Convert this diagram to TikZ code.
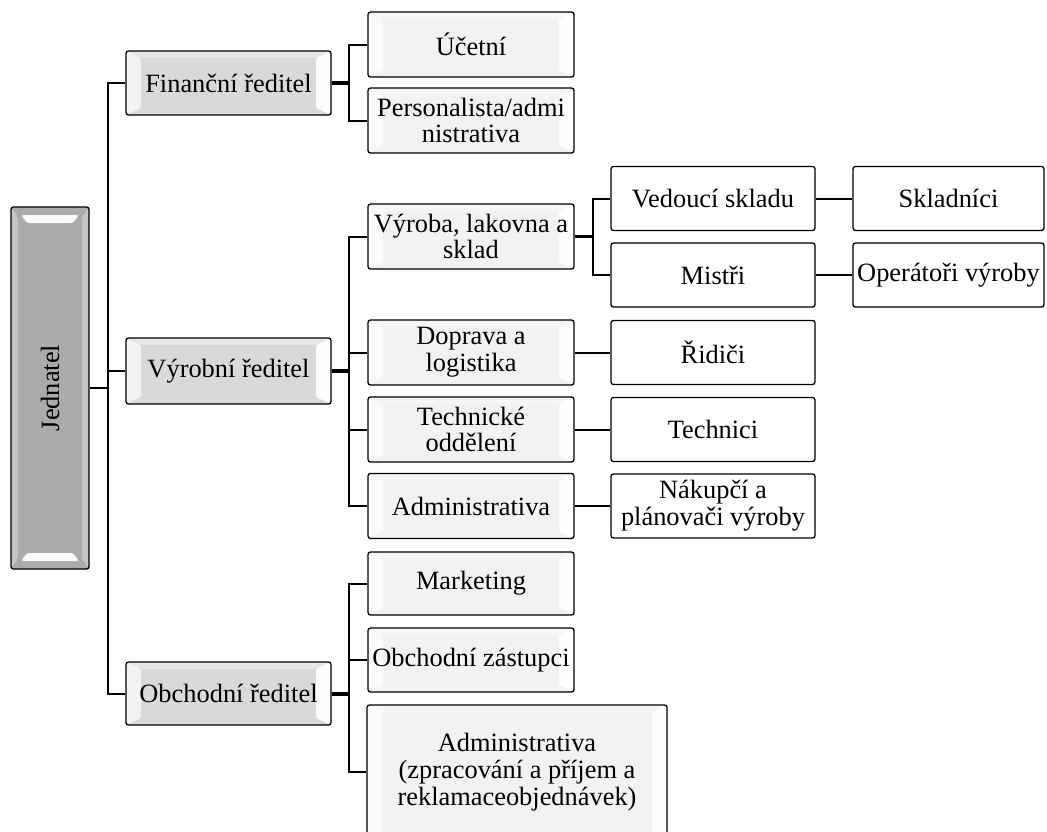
\documentclass[tikz,border=0pt]{standalone}
\usepackage{fontspec}
\setmainfont{Liberation Serif}
\usetikzlibrary{calc, positioning}
\definecolor{jedGray}{HTML}{ABABAB}
\definecolor{dirGray}{HTML}{D9D9D9}
\definecolor{depGray}{HTML}{F2F2F2}
\tikzset{
    orgBox/.style={rectangle, draw=black, line width=1.3pt, rounded corners=2.5pt, align=center, inner sep=1pt, font=\fontsize{26.4}{26.8}\selectfont},
    bevelH/.style={path picture={
        \fill[white, opacity=0.35] (path picture bounding box.north west) -- ++(15pt,-7pt) -- ($(path picture bounding box.north east)+(-15pt,-7pt)$) -- (path picture bounding box.north east) -- cycle;
        \fill[white, opacity=0.7] (path picture bounding box.north west) -- ++(15pt,-7pt) -- ($(path picture bounding box.south west)+(15pt,7pt)$) -- (path picture bounding box.south west) -- cycle;
        \fill[white, opacity=0.95] (path picture bounding box.north east) -- ++(-15pt,-7pt) -- ($(path picture bounding box.south east)+(-15pt,7pt)$) -- (path picture bounding box.south east) -- cycle;
    }},
    bevelV/.style={path picture={
        \fill[white, opacity=0.3] (path picture bounding box.north west) -- ++(7pt,-10pt) -- ($(path picture bounding box.south west)+(7pt,10pt)$) -- (path picture bounding box.south west) -- cycle;
        \fill[white, opacity=0.3] (path picture bounding box.north east) -- ++(-7pt,-10pt) -- ($(path picture bounding box.south east)+(-7pt,10pt)$) -- (path picture bounding box.south east) -- cycle;
        \fill[white, opacity=0.95] ($(path picture bounding box.north west)+(10pt,-8pt)$) -- ($(path picture bounding box.north east)+(-10pt,-8pt)$) -- ++(-6pt,-8pt) -- ($(path picture bounding box.north west)+(16pt,-16pt)$) -- cycle;
        \fill[white, opacity=0.95] ($(path picture bounding box.south west)+(10pt,8pt)$) -- ($(path picture bounding box.south east)+(-10pt,8pt)$) -- ++(-6pt,8pt) -- ($(path picture bounding box.south west)+(16pt,16pt)$) -- cycle;
    }},
    box0/.style={orgBox, fill=jedGray, bevelV, minimum width=78pt, minimum height=362pt},
    box1/.style={orgBox, fill=dirGray, bevelH, minimum width=205pt, minimum height=64pt},
    box2/.style={orgBox, fill=depGray, bevelH, minimum width=206pt, minimum height=65pt},
    box3/.style={orgBox, fill=white, minimum width=204pt, minimum height=64pt},
    orgEdge/.style={line width=2pt},
    orgStub/.style={line width=4pt},
}
\newcommand{\orgBranch}[2]{
    \draw[orgEdge] (#1) |- (#2.west);
}
\newcommand{\orgLink}[2]{
    \draw[orgEdge] (#1.east) -- (#2.west);
}

\begin{document}
\begin{tikzpicture}[x=1pt, y=-1pt]
    \useasboundingbox (0,0) rectangle (1047,831);
    \clip (0,0) rectangle (1047,831);

    \node[box0] (Jed) at (50,388) {\rotatebox{90}{Jednatel}};
    \node[box1] (Fin) at (228.5,83) {Finanční ředitel};
    \node[box1, minimum height=66pt] (Vyr) at (228.5,371) {Výrobní ředitel};
    \node[box1, minimum height=63pt] (Obch) at (228.5,693.5) {Obchodní ředitel};

    \node[box2] (Ucetni) at (471,44.5) {Účetní};
    \node[box2] (Pers) at (471,120.5) {Personalista/admi\\nistrativa};
    \node[box2] (Vyroba) at (471,236.5) {Výroba, lakovna a\\sklad};
    \node[box2] (Doprava) at (471,352.5) {Doprava a\\logistika};
    \node[box2] (Tech) at (471,429.5) {Technické\\oddělení};
    \node[box2] (AdmV) at (471,506) {Administrativa};
    \node[box2, minimum height=63pt] (Mark) at (471,583.5) {Marketing};
    \node[box2, minimum height=64pt] (Zast) at (471,660) {Obchodní zástupci};
    \node[box2, minimum width=300pt, minimum height=134pt] (AdmO) at (517,772) {Administrativa\\(zpracování a příjem a\\reklamaceobjednávek)};

    \node[box3] (Ved) at (713,198.5) {Vedoucí skladu};
    \node[box3] (Mis) at (713,275) {Mistři};
    \node[box3] (Rid) at (713,352.5) {Řidiči};
    \node[box3] (Techn) at (713,429.5) {Technici};
    \node[box3] (Nak) at (713,506) {Nákupčí a\\plánovači výroby};

    \node[box3, minimum width=191pt] (Skl) at (948.5,198.5) {Skladníci};
    \node[box3, minimum width=191pt] (Oper) at (948.5,275) {Operátoři výroby};

    % vetve
    \coordinate (t0) at ($(Jed.east)+(18,0)$);
    \draw[orgEdge, line width=2.6pt] (Jed.east) -- (t0);
    \orgBranch{t0}{Fin}
    \orgBranch{t0}{Vyr}
    \orgBranch{t0}{Obch}

    \coordinate (t1) at ($(Fin.east)+(17,0)$);
    \draw[orgStub] (Fin.east) -- (t1);
    \orgBranch{t1}{Ucetni}
    \orgBranch{t1}{Pers}

    \coordinate (t2) at ($(Vyr.east)+(17,0)$);
    \draw[orgStub] (Vyr.east) -- (t2);
    \orgBranch{t2}{Vyroba}
    \orgBranch{t2}{Doprava}
    \orgBranch{t2}{Tech}
    \orgBranch{t2}{AdmV}

    \coordinate (t3) at ($(Obch.east)+(17,0)$);
    \draw[orgStub] (Obch.east) -- (t3);
    \orgBranch{t3}{Mark}
    \orgBranch{t3}{Zast}
    \orgBranch{t3}{AdmO}

    \coordinate (t4) at ($(Vyroba.east)+(18,0)$);
    \draw[orgEdge, line width=2.6pt] (Vyroba.east) -- (t4);
    \orgBranch{t4}{Ved}
    \orgBranch{t4}{Mis}

    \orgLink{Ved}{Skl}
    \orgLink{Mis}{Oper}
    \orgLink{Doprava}{Rid}
    \orgLink{Tech}{Techn}
    \orgLink{AdmV}{Nak}
\end{tikzpicture}
\end{document}
